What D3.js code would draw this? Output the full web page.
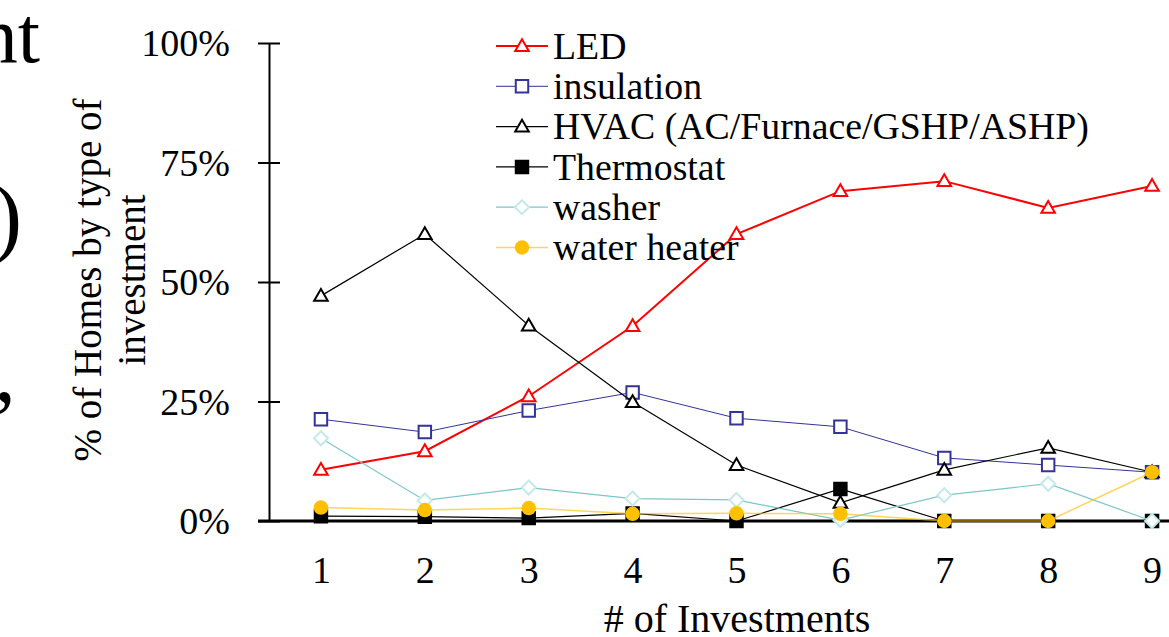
<!DOCTYPE html>
<html>
<head>
<meta charset="utf-8">
<script src="https://cdn.jsdelivr.net/npm/d3@7"></script>
<style>
  html, body { margin: 0; padding: 0; background: #fff; }
  svg { display: block; font-family: "Liberation Serif", "Times New Roman", serif; }
</style>
</head>
<body>
<svg id="chart" width="1169" height="637"></svg>
<script>
// Number of investments per home
const investments = [1, 2, 3, 4, 5, 6, 7, 8, 9];

// Share of homes (%) choosing each type of investment
const led          = [10.7, 14.6, 26.1, 40.8, 60.0, 69.0, 71.1, 65.5, 70.1];
const insulation   = [21.3, 18.6, 23.1, 26.9, 21.5, 19.7, 13.2, 11.7, 10.2];
const hvac         = [47.1, 60.0, 40.9, 24.9, 11.7, 3.8, 10.7, 15.3, 10.2];
const thermostat   = [1.0, 0.9, 0.6, 1.6, 0.0, 6.7, 0.0, 0.0, 0.0];
const washer       = [17.3, 4.3, 7.0, 4.7, 4.4, 0.2, 5.4, 7.8, 0.0];
const waterHeater  = [2.8, 2.3, 2.7, 1.5, 1.6, 1.5, 0.0, 0.0, 10.2];

const seriesNames = ["LED", "insulation", "HVAC (AC/Furnace/GSHP/ASHP)", "Thermostat", "washer", "water heater"];
const yTickValues = [0, 25, 50, 75, 100];

const styles = [
  { line: "#ff0000", lw: 2,   marker: "triangle", stroke: "#ff0000", fill: "#fff", opacity: 1 },
  { line: "#333399", lw: 1,   marker: "square",   stroke: "#333399", fill: "#fff", opacity: 1 },
  { line: "#000000", lw: 1.2, marker: "triangle", stroke: "#000000", fill: "#fff", opacity: 1 },
  { line: "#000000", lw: 1.2, marker: "square",   stroke: "#000000", fill: "#000", opacity: 1 },
  { line: "#7cc6c8", lw: 1.2, marker: "diamond",  stroke: "#c4e9ea", fill: "#fff", opacity: 1 },
  { line: "#ffc000", lw: 1.5, marker: "circle",   stroke: "#ffc000", fill: "#ffc000", opacity: 0.65 }
];

const values = [led, insulation, hvac, thermostat, washer, waterHeater];

const svg = d3.select("#chart");

const x = d3.scaleLinear().domain([0.5, 9.5]).range([269, 1204]);
const y = d3.scaleLinear().domain([0, 100]).range([521, 43]);

// Leftover slide text at the edge
svg.append("text").attr("x", 40).attr("y", 62).attr("text-anchor", "end")
  .attr("font-size", 80).text("nt");
svg.append("text").attr("x", 22).attr("y", 246).attr("text-anchor", "end")
  .attr("font-size", 88).text(")");
svg.append("text").attr("x", 16).attr("y", 401).attr("text-anchor", "end")
  .attr("font-size", 88).text(",");

// Y axis
const yAxis = svg.append("g")
  .attr("transform", "translate(269,0)")
  .call(d3.axisLeft(y).tickValues(yTickValues).tickSize(11).tickSizeOuter(0)
    .tickFormat(d => d + "%"));
yAxis.select(".domain").attr("stroke", "#000").attr("stroke-width", 2);
yAxis.selectAll(".tick line").attr("x1", -11).attr("x2", 11).attr("stroke-width", 2);
yAxis.selectAll(".tick text").attr("x", -39).attr("dy", "0.34em")
  .attr("font-size", 38).attr("font-family", "Liberation Serif").attr("fill", "#000");

// X axis
const xAxis = svg.append("g")
  .attr("transform", "translate(0,521)")
  .call(d3.axisBottom(x).tickValues(investments).tickSize(0).tickSizeOuter(0)
    .tickFormat(d3.format("d")));
xAxis.select(".domain").attr("d", "M258,0H1169").attr("stroke", "#000").attr("stroke-width", 3);
xAxis.selectAll(".tick text").attr("y", 62).attr("dy", 0)
  .attr("font-size", 38).attr("font-family", "Liberation Serif").attr("fill", "#000");

// Axis titles
svg.append("text").attr("x", 737).attr("y", 632).attr("text-anchor", "middle")
  .attr("font-size", 40).text("# of Investments");
const yTitle = svg.append("text")
  .attr("transform", "translate(101,280) rotate(-90)")
  .attr("text-anchor", "middle").attr("font-size", 39);
yTitle.append("tspan").attr("x", 0).attr("y", 0).text("% of Homes by type of");
yTitle.append("tspan").attr("x", 0).attr("y", 44).text("investment");

// Marker shapes
function markerPath(type) {
  if (type === "triangle") return d3.symbol(d3.symbolTriangle, 80)();
  if (type === "square") return d3.symbol(d3.symbolSquare, 155)();
  if (type === "diamond") return "M0,-7L7,0L0,7L-7,0Z";
  return d3.symbol(d3.symbolCircle, 165)();
}

const line = d3.line().x((d, i) => x(investments[i])).y(d => y(d));

values.forEach((vals, s) => {
  const st = styles[s];
  const g = svg.append("g").attr("class", "series");
  g.append("path").attr("d", line(vals)).attr("fill", "none")
    .attr("stroke", st.line).attr("stroke-width", st.lw).attr("stroke-opacity", st.opacity);
  g.selectAll("path.mark").data(vals).join("path").attr("class", "mark")
    .attr("transform", (d, i) => `translate(${x(investments[i])},${y(d) + (st.marker === "triangle" ? 1 : 0)})`)
    .attr("d", markerPath(st.marker))
    .attr("fill", st.fill).attr("stroke", st.stroke)
    .attr("stroke-width", st.marker === "circle" ? 0 : 2);
});

// Legend
const legend = svg.append("g").attr("transform", "translate(496,46)");
seriesNames.forEach((name, s) => {
  const st = styles[s];
  const row = legend.append("g").attr("transform", `translate(0,${s * 40.3})`);
  row.append("line").attr("x1", 0).attr("x2", 52).attr("y1", 0).attr("y2", 0)
    .attr("stroke", st.line).attr("stroke-width", st.lw).attr("stroke-opacity", st.opacity);
  row.append("path").attr("transform", `translate(26,${st.marker === "triangle" ? 1 : 0})`)
    .attr("d", markerPath(st.marker))
    .attr("fill", st.fill).attr("stroke", st.stroke)
    .attr("stroke-width", st.marker === "circle" ? 0 : 2);
  row.append("text").attr("x", 57).attr("y", 0).attr("dy", "0.34em")
    .attr("font-size", 37.8).text(name);
});
</script>
</body>
</html>
